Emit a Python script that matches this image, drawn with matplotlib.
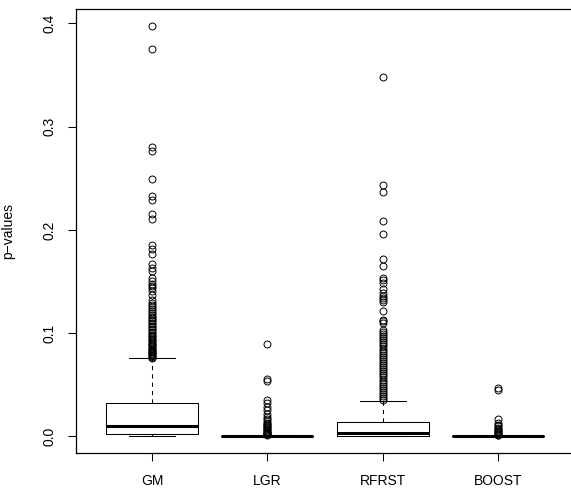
import matplotlib
matplotlib.use("Agg")
import matplotlib.pyplot as plt

plt.rcParams['font.family'] = ['Liberation Sans', 'DejaVu Sans']

# box statistics
methods = ["GM", "LGR", "RFRST", "BOOST"]
q1 = [0.0026, 0.0000, 0.0005, 0.0000]
med = [0.0099, 0.0000, 0.0033, 0.0000]
q3 = [0.0319, 0.0004, 0.0139, 0.0004]
whislo = [0.0, 0.0, 0.0, 0.0]
whishi = [0.0754, 0.0010, 0.0346, 0.0010]

gm_out = [0.398, 0.375, 0.280, 0.276, 0.249, 0.233, 0.229, 0.215, 0.211,
          0.185, 0.181, 0.177, 0.167, 0.163, 0.160, 0.153, 0.150, 0.148,
          0.146, 0.144, 0.141, 0.137, 0.132, 0.129, 0.127, 0.125, 0.123,
          0.121, 0.119, 0.118, 0.116, 0.115, 0.113, 0.112, 0.110, 0.109,
          0.107, 0.106, 0.104, 0.103, 0.101, 0.100, 0.098, 0.097, 0.096,
          0.094, 0.093, 0.092, 0.090, 0.089, 0.088, 0.087, 0.086, 0.085,
          0.084, 0.083, 0.082, 0.081, 0.080, 0.079, 0.078, 0.077, 0.076]
lgr_out = [0.0897, 0.0555, 0.0535, 0.0355, 0.0325, 0.028, 0.025, 0.022,
           0.019, 0.017, 0.015, 0.013, 0.012, 0.011, 0.010, 0.009, 0.008,
           0.007, 0.006, 0.005, 0.004, 0.0035, 0.003, 0.0025, 0.002, 0.0015]
rfrst_out = [0.348, 0.2437, 0.2363, 0.209, 0.196, 0.1717, 0.165, 0.1533,
             0.1517, 0.149, 0.1427, 0.1388, 0.1362, 0.134, 0.1323, 0.1297,
             0.1217, 0.113, 0.1113, 0.1097, 0.103, 0.101, 0.099, 0.097,
             0.095, 0.093, 0.091, 0.089, 0.087, 0.085, 0.083, 0.081, 0.079,
             0.077, 0.075, 0.073, 0.071, 0.069, 0.067, 0.065, 0.063, 0.061,
             0.059, 0.057, 0.055, 0.053, 0.051, 0.049, 0.047, 0.045, 0.043,
             0.041, 0.039, 0.037, 0.0355]
boost_out = [0.0465, 0.0445, 0.0168, 0.013, 0.011, 0.0095, 0.008, 0.007,
             0.006, 0.005, 0.004, 0.003, 0.002, 0.0015, 0.001]
outliers = [gm_out, lgr_out, rfrst_out, boost_out]

stats = []
for i in range(len(methods)):
    stats.append(dict(label=methods[i], q1=q1[i], med=med[i], q3=q3[i],
                      whislo=whislo[i], whishi=whishi[i], fliers=outliers[i]))

fig = plt.figure(figsize=(5.71, 4.92), dpi=100)
ax = fig.add_axes([76 / 571, 1 - 452.7 / 492, 498 / 571, 444.1 / 492])

lw = 0.75
ax.bxp(stats, positions=[1, 2, 3, 4], widths=0.8,
       boxprops=dict(color="black", linewidth=lw),
       medianprops=dict(color="black", linewidth=2.2, solid_capstyle="butt"),
       whiskerprops=dict(color="black", linewidth=lw, linestyle=(0, (4, 4))),
       capprops=dict(color="black", linewidth=lw),
       flierprops=dict(marker="o", markersize=5, markerfacecolor="none",
                       markeredgecolor="black", markeredgewidth=0.7),
       capwidths=0.4)

ax.set_xlim(0.34, 4.66)
ax.set_ylim(-0.0159, 0.4144)
ax.set_yticks([0.0, 0.1, 0.2, 0.3, 0.4])
ax.set_yticklabels(["0.0", "0.1", "0.2", "0.3", "0.4"], rotation=90, va="center")
ax.tick_params(axis="both", direction="out", length=6, width=0.75,
               labelsize=10, pad=8)
ax.tick_params(axis="x", pad=9)
for sp in ax.spines.values():
    sp.set_linewidth(0.9)
# frame is cut off on the right in the original
ax.spines["right"].set_visible(False)

ax.set_ylabel("p\u2212values", fontsize=10)
ax.yaxis.set_label_coords(-0.122, 0.5)

fig.savefig("out.png", dpi=100)
